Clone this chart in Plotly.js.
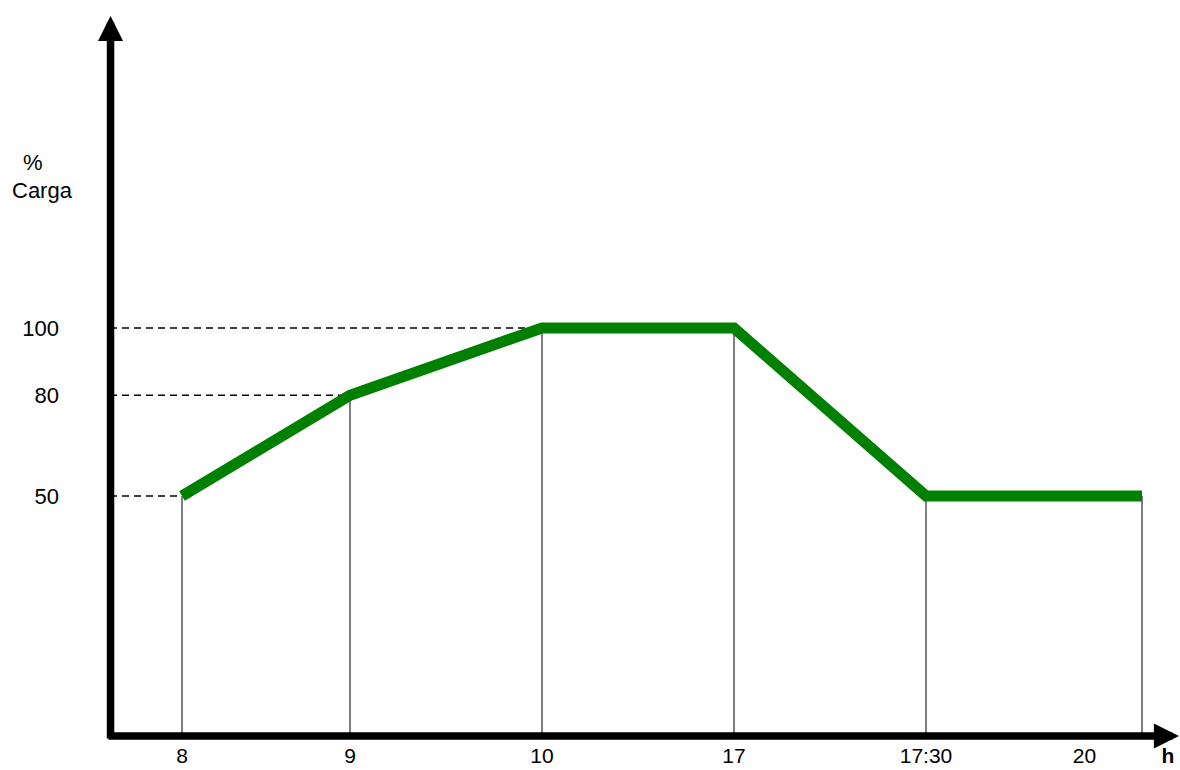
<!DOCTYPE html>
<html><head><meta charset="utf-8">
<script src="https://cdn.plot.ly/plotly-3.0.1.min.js"></script>
<style>html,body{margin:0;padding:0;background:#fff;}</style>
</head><body>
<div id="chart" style="width:1180px;height:770px;"></div>
<script>
// Time of day for each point of the load profile
const hourLabels = ['8', '9', '10', '17', '17:30', '20'];
// Slot of each time on the drawn (non-proportional) time axis
const hourSlots = [3.5, 7, 11, 15, 19, 23.5];
// Load in percent
const loadPct = [50, 80, 100, 100, 50, 50];
// Y tick values
const loadTicks = [50, 80, 100];
// X tick labels and their slots ("20" sits left of its guide in the original)
const tickTexts = ['8', '9', '10', '17', '17:30', '20', '<b>h</b>'];
const tickSlots = [3.5, 7, 11, 15, 19, 22.3, 24.04];

const xRange = [2.0, 24.2917];
const yRange = [-21.43, 197.62];

const shapes = [];
// vertical guides from each point down to the time axis
hourSlots.forEach((x, i) => {
  shapes.push({type: 'line', xref: 'x', yref: 'y', layer: 'below',
    x0: x, x1: x, y0: loadPct[i], y1: yRange[0],
    line: {color: '#000', width: 1}});
});
// dashed guides from the load axis to the first point reaching each level
loadTicks.forEach(v => {
  const i = loadPct.indexOf(v);
  shapes.push({type: 'line', xref: 'x', yref: 'y', layer: 'below',
    x0: xRange[0], x1: hourSlots[i], y0: v, y1: v,
    line: {color: '#000', width: 1.5, dash: '7px,5px'}});
});

const annotations = [
  // vertical axis arrow
  {xref: 'paper', yref: 'paper', x: 0.0005, y: 1 - 16 / 736, ax: 0, ay: 724,
   axref: 'pixel', ayref: 'pixel', showarrow: true, arrowhead: 2,
   arrowsize: 0.67, arrowwidth: 7.5, arrowcolor: '#000', text: ''},
  // horizontal axis arrow
  {xref: 'paper', yref: 'paper', x: (1183 - 110) / 1070, y: 0, ax: -1076, ay: 0,
   axref: 'pixel', ayref: 'pixel', showarrow: true, arrowhead: 2,
   arrowsize: 0.67, arrowwidth: 7.5, arrowcolor: '#000', text: ''},
  {xref: 'paper', yref: 'paper', x: (33 - 110) / 1070, y: (736 - 162) / 736,
   xanchor: 'center', yanchor: 'middle', showarrow: false, text: '%'},
  {xref: 'paper', yref: 'paper', x: (42 - 110) / 1070, y: (736 - 190) / 736,
   xanchor: 'center', yanchor: 'middle', showarrow: false, text: 'Carga'}
];

const trace = {
  type: 'scatter', mode: 'lines',
  x: hourSlots, y: loadPct, text: hourLabels, hoverinfo: 'text+y',
  line: {color: '#008000', width: 11},
  cliponaxis: false
};

const layout = {
  width: 1180, height: 770,
  margin: {l: 110, r: 0, t: 0, b: 34, pad: 0},
  paper_bgcolor: '#fff', plot_bgcolor: '#fff', showlegend: false,
  font: {family: '"Liberation Sans", Arial, sans-serif', size: 22, color: '#000'},
  xaxis: {range: xRange, tickmode: 'array', tickvals: tickSlots, ticktext: tickTexts,
    ticks: '', showgrid: false, zeroline: false, showline: false,
    tickfont: {size: 21}, ticklabelstandoff: 5, fixedrange: true},
  yaxis: {range: yRange, tickmode: 'array', tickvals: loadTicks,
    ticktext: loadTicks.map(String), ticks: '', showgrid: false,
    zeroline: false, showline: false, ticklabelstandoff: 50, fixedrange: true},
  shapes: shapes,
  annotations: annotations
};

Plotly.newPlot('chart', [trace], layout, {displayModeBar: false, staticPlot: true});
</script>
</body></html>
